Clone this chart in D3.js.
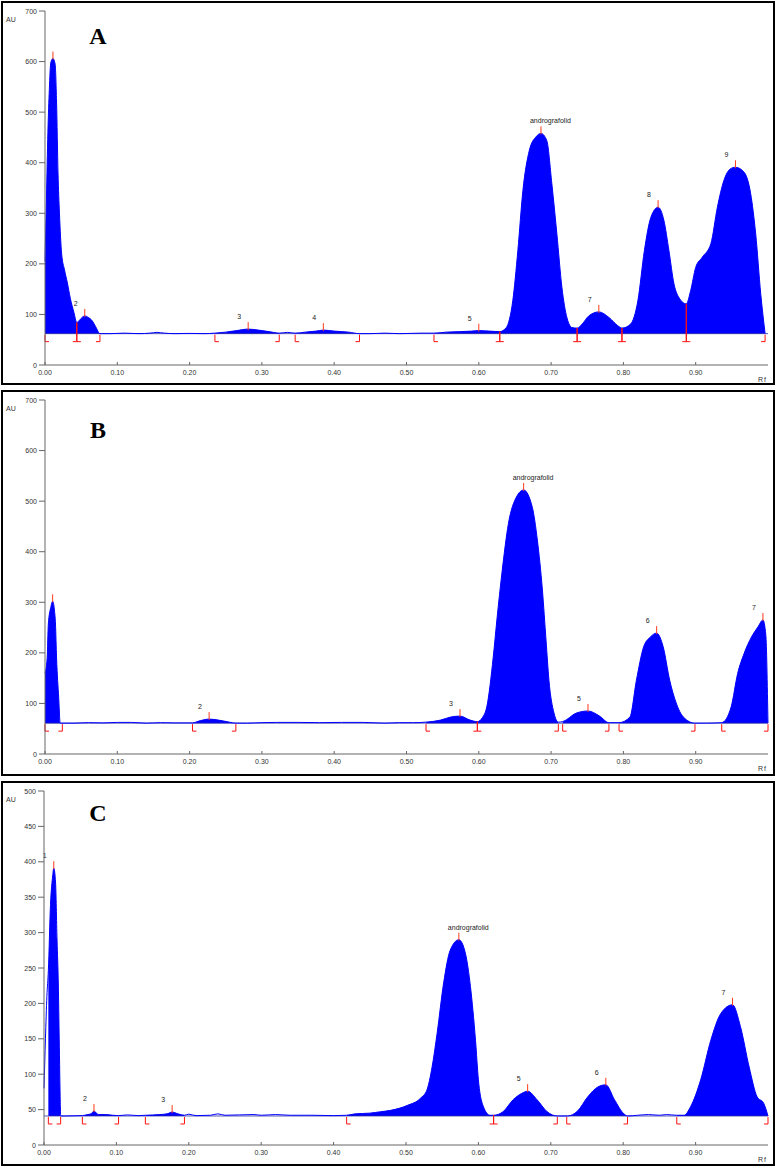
<!DOCTYPE html>
<html>
<head>
<meta charset="utf-8">
<script src="https://cdnjs.cloudflare.com/ajax/libs/d3/7.8.5/d3.min.js"></script>
<style>
  body { margin: 0; background: #fff; }
  svg { display: block; }
  text { font-family: Arial, "Liberation Sans", sans-serif; }
</style>
</head>
<body>
<div id="chart"></div>
<script>
// densitogram traces, [Rf, AU]
const traceA = [
  [0.000, 205], [0.002, 330], [0.004, 460], [0.006, 545], [0.008, 598], [0.011, 606],
  [0.014, 595], [0.016, 520], [0.018, 380], [0.020, 300], [0.023, 220], [0.027, 188],
  [0.031, 162], [0.035, 132], [0.040, 104], [0.044, 84], [0.048, 89], [0.052, 95],
  [0.055, 97], [0.060, 94], [0.065, 88], [0.070, 76], [0.076, 62], [0.090, 62],
  [0.110, 63], [0.130, 62], [0.145, 63], [0.155, 64.5], [0.165, 63], [0.180, 62],
  [0.200, 62.5], [0.220, 62], [0.235, 63], [0.250, 65], [0.265, 68], [0.281, 71],
  [0.295, 69], [0.310, 66], [0.324, 63], [0.335, 64.5], [0.346, 63], [0.360, 65],
  [0.375, 67], [0.385, 69], [0.400, 67], [0.420, 65], [0.435, 62], [0.450, 62],
  [0.470, 63], [0.490, 62], [0.520, 63], [0.538, 63], [0.555, 65], [0.575, 66],
  [0.590, 67], [0.600, 68], [0.615, 67], [0.629, 66], [0.638, 74], [0.647, 127],
  [0.654, 226], [0.661, 345], [0.670, 425], [0.679, 451], [0.686, 458], [0.694, 444],
  [0.701, 359], [0.708, 259], [0.715, 153], [0.722, 93], [0.729, 74], [0.736, 73],
  [0.743, 81], [0.752, 97], [0.766, 105], [0.780, 94], [0.792, 78], [0.798, 73],
  [0.810, 81], [0.820, 127], [0.829, 226], [0.838, 292], [0.848, 312], [0.856, 286],
  [0.863, 226], [0.870, 160], [0.877, 133], [0.887, 121], [0.893, 147], [0.900, 193],
  [0.909, 213], [0.921, 240], [0.930, 312], [0.939, 365], [0.948, 388], [0.955, 391],
  [0.967, 381], [0.976, 339], [0.983, 259], [0.990, 140], [0.996, 62]
];
const traceB = [
  [0.000, 160], [0.003, 190], [0.0046, 257], [0.008, 290], [0.0106, 302], [0.013, 285],
  [0.0145, 257], [0.016, 190], [0.019, 110], [0.021, 61], [0.040, 61], [0.060, 62],
  [0.080, 61.5], [0.100, 62.5], [0.120, 62.5], [0.140, 61], [0.160, 62], [0.180, 61.5],
  [0.204, 61.5], [0.215, 66], [0.227, 69], [0.240, 67], [0.255, 63], [0.264, 61],
  [0.280, 61], [0.300, 62], [0.320, 62.5], [0.350, 62.5], [0.380, 62], [0.410, 62.5],
  [0.440, 62.5], [0.470, 61], [0.490, 62], [0.510, 62], [0.527, 63], [0.547, 67],
  [0.561, 73], [0.574, 75], [0.588, 67], [0.598, 64], [0.605, 72], [0.611, 93],
  [0.620, 192], [0.625, 265], [0.632, 358], [0.641, 456], [0.652, 508], [0.662, 522],
  [0.674, 488], [0.681, 423], [0.688, 324], [0.693, 225], [0.697, 146], [0.704, 81],
  [0.710, 63], [0.716, 64], [0.735, 81], [0.751, 85], [0.767, 75], [0.780, 62],
  [0.794, 62], [0.809, 73], [0.818, 146], [0.828, 212], [0.837, 231], [0.846, 239],
  [0.855, 212], [0.864, 146], [0.873, 101], [0.883, 73], [0.899, 61], [0.915, 61],
  [0.936, 62], [0.949, 93], [0.958, 159], [0.967, 199], [0.977, 231], [0.986, 251],
  [0.993, 265], [0.997, 235], [1.000, 61]
];
const traceC = [
  [0.000, 80], [0.002, 150], [0.004, 210], [0.006, 246], [0.009, 340], [0.012, 380],
  [0.0135, 391], [0.016, 370], [0.018, 290], [0.0198, 226], [0.021, 150], [0.0225, 60],
  [0.023, 41], [0.030, 41], [0.053, 41.5], [0.060, 43], [0.065, 44], [0.069, 48],
  [0.075, 43], [0.085, 43], [0.095, 42], [0.103, 41.5], [0.115, 42.5], [0.130, 41.5],
  [0.140, 42], [0.160, 43], [0.170, 44], [0.177, 46.5], [0.185, 44], [0.194, 42],
  [0.200, 43.5], [0.210, 41.5], [0.230, 42], [0.240, 44], [0.250, 42], [0.270, 42.5],
  [0.290, 43], [0.300, 42], [0.320, 43], [0.340, 42], [0.370, 42], [0.400, 41.5],
  [0.418, 42], [0.430, 44], [0.450, 45], [0.465, 47], [0.479, 49], [0.502, 56],
  [0.520, 66], [0.529, 78], [0.536, 110], [0.543, 158], [0.552, 229], [0.561, 275],
  [0.573, 290], [0.582, 271], [0.589, 224], [0.596, 148], [0.600, 92], [0.607, 54],
  [0.616, 42], [0.621, 42], [0.634, 47], [0.648, 64], [0.660, 73], [0.668, 76],
  [0.681, 64], [0.695, 47], [0.709, 41], [0.723, 41], [0.737, 48], [0.751, 68],
  [0.765, 82], [0.776, 85], [0.788, 64], [0.801, 44], [0.806, 41], [0.820, 42],
  [0.835, 43], [0.850, 42], [0.860, 43], [0.874, 42], [0.884, 42], [0.893, 54],
  [0.907, 92], [0.921, 148], [0.935, 186], [0.951, 198], [0.962, 167], [0.974, 110],
  [0.985, 68], [0.994, 59], [1.000, 41]
];

// baselines (AU)
const baseA = 62, baseB = 61, baseC = 41;

// integration windows [start Rf, end Rf]
const windowsA = [[0, 0.044], [0.044, 0.076], [0.235, 0.324], [0.346, 0.435], [0.538, 0.629],
  [0.629, 0.736], [0.736, 0.798], [0.798, 0.887], [0.887, 0.996]];
const windowsB = [[0, 0.024], [0.204, 0.264], [0.527, 0.598], [0.598, 0.710], [0.716, 0.780],
  [0.794, 0.899], [0.936, 1.0]];
const windowsC = [[0.006, 0.023], [0.053, 0.103], [0.140, 0.194], [0.418, 0.621], [0.621, 0.709],
  [0.722, 0.806], [0.874, 1.0]];

// peak labels [label, Rf, AU at apex]
const peaksA = [["", 0.011, 606], ["2", 0.055, 97], ["3", 0.281, 71], ["4", 0.385, 69], ["5", 0.600, 68],
  ["andrografolid", 0.686, 458], ["7", 0.766, 105], ["8", 0.848, 312], ["9", 0.955, 391]];
const peaksB = [["", 0.0106, 302], ["2", 0.227, 69], ["3", 0.574, 75], ["andrografolid", 0.662, 522],
  ["5", 0.751, 85], ["6", 0.846, 239], ["7", 0.993, 265]];
const peaksC = [["1", 0.0135, 391], ["2", 0.069, 48], ["3", 0.177, 46.5], ["andrografolid", 0.573, 290],
  ["5", 0.668, 76], ["6", 0.776, 85], ["7", 0.951, 198]];

// axis ticks
const xTicks = [0, 0.1, 0.2, 0.3, 0.4, 0.5, 0.6, 0.7, 0.8, 0.9];
const yTicksAB = [0, 100, 200, 300, 400, 500, 600, 700];
const yTicksC = [0, 50, 100, 150, 200, 250, 300, 350, 400, 450, 500];

const W = 777, H = 1168;
const panels = [
  { letter: 'A', top: 2, h: 382, yMax: 700, yTicks: yTicksAB, trace: traceA, base: baseA, windows: windowsA, peaks: peaksA, letterY: 42, axisX: 45 },
  { letter: 'B', top: 391, h: 384, yMax: 700, yTicks: yTicksAB, trace: traceB, base: baseB, windows: windowsB, peaks: peaksB, letterY: 47, axisX: 45 },
  { letter: 'C', top: 782, h: 383, yMax: 500, yTicks: yTicksC, trace: traceC, base: baseC, windows: windowsC, peaks: peaksC, letterY: 39, axisX: 44 }
];

const svg = d3.select('#chart').append('svg')
  .attr('width', W)
  .attr('height', H);

const blue = '#0000ff';
const red = '#ff1010';
const bis = d3.bisector(d => d[0]).left;

function valueAt(trace, rf) {
  const i = bis(trace, rf);
  if (i <= 0) return trace[0][1];
  if (i >= trace.length) return trace[trace.length - 1][1];
  const a = trace[i - 1], b = trace[i];
  const t = (rf - a[0]) / (b[0] - a[0]);
  return a[1] + t * (b[1] - a[1]);
}

panels.forEach((p, pi) => {
  const g = svg.append('g').attr('transform', `translate(0,${p.top})`);

  g.append('rect')
    .attr('x', 2).attr('y', 0)
    .attr('width', 772).attr('height', p.h)
    .attr('fill', 'none')
    .attr('stroke', '#000')
    .attr('stroke-width', 2);

  const x = d3.scaleLinear().domain([0, 1]).range([p.axisX, 768]);
  const y = d3.scaleLinear().domain([0, p.yMax]).range([363, 9]);

  // clip for integrated windows
  const clipId = 'clip' + pi;
  const clip = g.append('clipPath').attr('id', clipId);
  p.windows.forEach(w => {
    clip.append('rect')
      .attr('x', x(w[0])).attr('y', 0)
      .attr('width', x(w[1]) - x(w[0])).attr('height', 363);
  });

  const area = d3.area()
    .x(d => x(d[0]))
    .y0(y(p.base))
    .y1(d => y(d[1]))
    .curve(d3.curveMonotoneX);
  const line = d3.line()
    .x(d => x(d[0]))
    .y(d => y(d[1]))
    .curve(d3.curveMonotoneX);

  g.append('path')
    .datum(p.trace)
    .attr('d', area)
    .attr('fill', blue)
    .attr('clip-path', `url(#${clipId})`);

  // baseline
  g.append('line')
    .attr('x1', x(0)).attr('x2', x(1))
    .attr('y1', y(p.base)).attr('y2', y(p.base))
    .attr('stroke', '#2a2aa0')
    .attr('stroke-width', 0.8);

  g.append('path')
    .datum(p.trace)
    .attr('d', line)
    .attr('fill', 'none')
    .attr('stroke', blue)
    .attr('stroke-width', 1);

  // integration markers: tall line only where two windows meet
  const by = y(p.base);
  const starts = p.windows.map(w => w[0]);
  const ends = p.windows.map(w => w[1]);
  p.windows.forEach(w => {
    [[w[0], 1], [w[1], -1]].forEach(([rf, dir]) => {
      const xx = x(rf);
      const shared = dir > 0 ? ends.includes(rf) : starts.includes(rf);
      const top = shared ? Math.min(y(valueAt(p.trace, rf)), by) : by + 1;
      g.append('line')
        .attr('x1', xx).attr('x2', xx)
        .attr('y1', top).attr('y2', by + 8)
        .attr('stroke', red).attr('stroke-width', 1);
      g.append('line')
        .attr('x1', xx).attr('x2', xx + dir * 4)
        .attr('y1', by + 8).attr('y2', by + 8)
        .attr('stroke', red).attr('stroke-width', 1);
    });
  });

  // peak apex markers and labels
  p.peaks.forEach(pk => {
    const px = x(pk[1]), py = y(pk[2]);
    g.append('line')
      .attr('x1', px).attr('x2', px)
      .attr('y1', py - 7).attr('y2', py + 1)
      .attr('stroke', '#ff3a1a').attr('stroke-width', 1);
    if (pk[0]) {
      g.append('text')
        .attr('x', px - 11)
        .attr('y', py - 10)
        .attr('font-size', 7)
        .attr('fill', '#222')
        .text(pk[0]);
    }
  });

  // y axis
  g.append('line')
    .attr('x1', p.axisX).attr('x2', p.axisX)
    .attr('y1', 9).attr('y2', 363)
    .attr('stroke', '#666');
  p.yTicks.forEach(t => {
    g.append('line')
      .attr('x1', p.axisX - 6).attr('x2', p.axisX)
      .attr('y1', y(t)).attr('y2', y(t))
      .attr('stroke', '#666');
    g.append('text')
      .attr('x', p.axisX - 8)
      .attr('y', y(t) + 2.5)
      .attr('text-anchor', 'end')
      .attr('font-size', 7)
      .attr('fill', '#333')
      .text(t);
  });

  // x axis
  g.append('line')
    .attr('x1', p.axisX).attr('x2', 768)
    .attr('y1', 363).attr('y2', 363)
    .attr('stroke', '#666');
  xTicks.forEach(t => {
    g.append('line')
      .attr('x1', x(t)).attr('x2', x(t))
      .attr('y1', 360).attr('y2', 363)
      .attr('stroke', '#666');
    g.append('text')
      .attr('x', x(t))
      .attr('y', 373)
      .attr('text-anchor', 'middle')
      .attr('font-size', 7)
      .attr('fill', '#333')
      .text(d3.format('.2f')(t));
  });

  g.append('text')
    .attr('x', 6).attr('y', 20)
    .attr('font-size', 7)
    .attr('fill', '#333')
    .text('AU');
  g.append('text')
    .attr('x', 758).attr('y', 380)
    .attr('font-size', 7)
    .attr('fill', '#333')
    .attr('letter-spacing', 1)
    .text('Rf');

  g.append('text')
    .attr('x', 98).attr('y', p.letterY)
    .attr('text-anchor', 'middle')
    .style('font-family', '"Liberation Serif", "Times New Roman", serif')
    .style('font-weight', 'bold')
    .style('font-size', '24px')
    .text(p.letter);
});
</script>
</body>
</html>
